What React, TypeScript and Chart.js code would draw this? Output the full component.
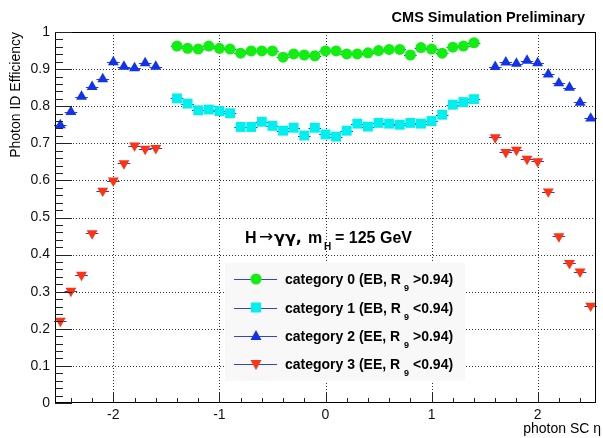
import React, { useEffect, useRef } from 'react';
import { Chart, registerables } from 'chart.js';

Chart.register(...registerables);

// ---------------- data ----------------
const etaEB = [-1.4, -1.3, -1.2, -1.1, -1.0, -0.9, -0.8, -0.7, -0.6, -0.5, -0.4, -0.3, -0.2, -0.1, 0.0,
  0.1, 0.2, 0.3, 0.4, 0.5, 0.6, 0.7, 0.8, 0.9, 1.0, 1.1, 1.2, 1.3, 1.4];
const cat0 = [0.962, 0.956, 0.954, 0.962, 0.956, 0.954, 0.943, 0.949, 0.949, 0.949, 0.932, 0.941, 0.938, 0.936, 0.949,
  0.949, 0.941, 0.941, 0.944, 0.950, 0.953, 0.953, 0.938, 0.958, 0.954, 0.943, 0.959, 0.962, 0.971];
const cat1 = [0.821, 0.807, 0.789, 0.791, 0.787, 0.781, 0.744, 0.744, 0.758, 0.747, 0.734, 0.742, 0.721, 0.742, 0.724,
  0.718, 0.734, 0.753, 0.745, 0.755, 0.753, 0.750, 0.755, 0.753, 0.760, 0.777, 0.804, 0.811, 0.819];
const etaEE = [-2.5, -2.4, -2.3, -2.2, -2.1, -2.0, -1.9, -1.8, -1.7, -1.6,
  1.6, 1.7, 1.8, 1.9, 2.0, 2.1, 2.2, 2.3, 2.4, 2.5];
const cat2 = [0.749, 0.785, 0.826, 0.852, 0.873, 0.919, 0.907, 0.903, 0.916, 0.907,
  0.906, 0.918, 0.915, 0.923, 0.916, 0.886, 0.862, 0.850, 0.810, 0.767];
const cat3 = [0.221, 0.302, 0.345, 0.457, 0.572, 0.599, 0.646, 0.694, 0.685, 0.687,
  0.716, 0.676, 0.682, 0.658, 0.651, 0.570, 0.449, 0.377, 0.354, 0.262];
const binHalfWidth = 0.05;

const xTickValues = [-2, -1, 0, 1, 2];
const xTickLabels = ['-2', '-1', '0', '1', '2'];
const yTickValues = [0, 0.1, 0.2, 0.3, 0.4, 0.5, 0.6, 0.7, 0.8, 0.9, 1];
const yTickLabels = ['0', '0.1', '0.2', '0.3', '0.4', '0.5', '0.6', '0.7', '0.8', '0.9', '1'];

const legendPrefix = ['category 0 (EB, R', 'category 1 (EB, R', 'category 2 (EE, R', 'category 3 (EE, R'];
const legendSub = ['9', '9', '9', '9'];
const legendCut = ['>0.94)', '<0.94)', '>0.94)', '<0.94)'];
const markerColors = ['#11ee11', '#00f0f0', '#1133ee', '#ff3311'];
const markerStyles = ['circle', 'rect', 'triangle', 'triangleDown'];

const titleText = 'CMS Simulation Preliminary';
const yTitle = 'Photon ID Efficiency';
const xTitle = 'photon SC \u03b7';

const FONT = '"Liberation Sans", Arial, Helvetica, sans-serif';
const SYM_FONT = '"DejaVu Sans", "Liberation Sans", sans-serif';
const ERR_COLOR = '#2a3ad8';

function drawMarker(ctx: CanvasRenderingContext2D, style: string, x: number, y: number, color: string) {
  ctx.save();
  ctx.fillStyle = color;
  ctx.beginPath();
  if (style === 'circle') {
    ctx.arc(x, y, 5.5, 0, Math.PI * 2);
  } else if (style === 'rect') {
    ctx.rect(x - 5, y - 5, 10, 10);
  } else if (style === 'triangle') {
    ctx.moveTo(x, y - 6);
    ctx.lineTo(x + 5.5, y + 4);
    ctx.lineTo(x - 5.5, y + 4);
  } else {
    ctx.moveTo(x, y + 6);
    ctx.lineTo(x + 5.5, y - 4);
    ctx.lineTo(x - 5.5, y - 4);
  }
  ctx.closePath();
  ctx.fill();
  ctx.restore();
}

const decorPlugin = {
  id: 'rootDecor',
  beforeDatasetsDraw(chart: any) {
    const { ctx, chartArea: a, scales } = chart;
    const xs = scales.x, ys = scales.y;
    ctx.save();
    // dotted grid
    ctx.strokeStyle = '#333';
    ctx.lineWidth = 1;
    ctx.setLineDash([1, 2]);
    for (const v of yTickValues) {
      const py = Math.round(ys.getPixelForValue(v)) + 0.5;
      if (py <= a.top + 1 || py >= a.bottom - 1) continue;
      ctx.beginPath();
      ctx.moveTo(a.left, py);
      ctx.lineTo(a.right, py);
      ctx.stroke();
    }
    for (const v of xTickValues) {
      const px = Math.round(xs.getPixelForValue(v)) + 0.5;
      ctx.beginPath();
      ctx.moveTo(px, a.top);
      ctx.lineTo(px, a.bottom);
      ctx.stroke();
    }
    ctx.setLineDash([]);
    // horizontal error bars (bin width)
    ctx.strokeStyle = ERR_COLOR;
    chart.data.datasets.forEach((ds: any) => {
      ds.data.forEach((p: any) => {
        const x1 = xs.getPixelForValue(p.x - binHalfWidth);
        const x2 = xs.getPixelForValue(p.x + binHalfWidth);
        const py = Math.round(ys.getPixelForValue(p.y)) + 0.5;
        ctx.beginPath();
        ctx.moveTo(x1 - 1, py);
        ctx.lineTo(x2 + 1, py);
        ctx.stroke();
      });
    });
    ctx.restore();
  },
  afterDatasetsDraw(chart: any) {
    const { ctx } = chart;
    ctx.save();
    // annotation
    ctx.fillStyle = '#000';
    ctx.textBaseline = 'alphabetic';
    ctx.textAlign = 'left';
    ctx.font = `bold 16px ${FONT}`;
    ctx.fillText('H', 245, 243);
    ctx.font = `17px ${SYM_FONT}`;
    ctx.fillText('\u2192', 259, 242);
    ctx.font = `bold 16px ${SYM_FONT}`;
    ctx.fillText('\u03b3\u03b3,', 274, 243);
    ctx.font = `bold 16px ${FONT}`;
    ctx.fillText('m', 308, 243);
    ctx.font = `bold 10px ${FONT}`;
    ctx.fillText('H', 324, 250);
    ctx.font = `bold 16px ${FONT}`;
    ctx.fillText('= 125 GeV', 335, 243);

    // legend
    ctx.fillStyle = '#f8f8f8';
    ctx.fillRect(225, 263, 240, 118);
    const rows = [279, 307.5, 336, 364];
    rows.forEach((ry, i) => {
      ctx.strokeStyle = '#3344cc';
      ctx.lineWidth = 1;
      ctx.beginPath();
      ctx.moveTo(234, Math.round(ry) + 0.5);
      ctx.lineTo(277, Math.round(ry) + 0.5);
      ctx.stroke();
      drawMarker(ctx, markerStyles[i], 256, ry, markerColors[i]);
      ctx.fillStyle = '#000';
      ctx.font = `bold 14px ${FONT}`;
      ctx.fillText(legendPrefix[i], 285, ry + 5);
      ctx.font = `bold 9px ${FONT}`;
      ctx.fillText(legendSub[i], 404, ry + 12);
      ctx.font = `bold 14px ${FONT}`;
      ctx.fillText(legendCut[i], 413, ry + 5);
    });
    ctx.restore();
  },
  afterDraw(chart: any) {
    const { ctx, chartArea: a, scales } = chart;
    const xs = scales.x, ys = scales.y;
    ctx.save();
    // frame
    ctx.strokeStyle = '#000';
    ctx.lineWidth = 1;
    ctx.strokeRect(a.left + 0.5, a.top + 0.5, a.right - a.left - 1, a.bottom - a.top - 1);
    // y ticks (inward)
    ctx.strokeStyle = '#222';
    ctx.beginPath();
    for (let k = 0; k <= 50; k++) {
      const v = k / 50;
      const py = Math.round(ys.getPixelForValue(v)) + 0.5;
      const len = k % 5 === 0 ? 17 : 8;
      ctx.moveTo(a.left, py);
      ctx.lineTo(a.left + len, py);
    }
    // x ticks (inward)
    for (let k = -12; k <= 12; k++) {
      const v = k / 5;
      const px = Math.round(xs.getPixelForValue(v)) + 0.5;
      const len = k % 5 === 0 ? 10 : 5;
      ctx.moveTo(px, a.bottom);
      ctx.lineTo(px, a.bottom - len);
    }
    ctx.stroke();

    // title
    ctx.fillStyle = '#000';
    ctx.font = `bold 14.5px ${FONT}`;
    ctx.textAlign = 'right';
    ctx.textBaseline = 'alphabetic';
    ctx.fillText(titleText, 585, 22);
    // x title
    ctx.font = `14px ${FONT}`;
    ctx.fillText(xTitle, 601, 433);
    // y title
    ctx.translate(16, a.top);
    ctx.rotate(-Math.PI / 2);
    ctx.textAlign = 'right';
    ctx.textBaseline = 'middle';
    ctx.fillText(yTitle, 0, 0);
    ctx.restore();
  },
};

export default function App() {
  const ref = useRef<HTMLCanvasElement | null>(null);
  useEffect(() => {
    document.body.style.margin = '0';
    const canvas = ref.current;
    if (!canvas) return;
    const mk = (xsArr: number[], ysArr: number[]) => xsArr.map((x, i) => ({ x, y: ysArr[i] }));
    const chart = new Chart(canvas, {
      type: 'scatter',
      data: {
        datasets: [
          { label: 'category 0', data: mk(etaEB, cat0), pointStyle: 'circle', pointRadius: 5.5, backgroundColor: markerColors[0], borderWidth: 0 },
          { label: 'category 1', data: mk(etaEB, cat1), pointStyle: 'rect', pointRadius: 7, backgroundColor: markerColors[1], borderWidth: 0 },
          { label: 'category 2', data: mk(etaEE, cat2), pointStyle: 'triangle', pointRadius: 6.3, backgroundColor: markerColors[2], borderWidth: 0 },
          { label: 'category 3', data: mk(etaEE, cat3), pointStyle: 'triangle', rotation: 180, pointRadius: 6.3, backgroundColor: markerColors[3], borderWidth: 0 },
        ] as any,
      },
      options: {
        animation: false,
        responsive: false,
        maintainAspectRatio: false,
        devicePixelRatio: 1,
        layout: { padding: { left: 0, right: 2, top: 32, bottom: 0 } },
        plugins: { legend: { display: false }, tooltip: { enabled: false }, title: { display: false } },
        scales: {
          x: {
            type: 'linear',
            min: -2.55,
            max: 2.55,
            grid: { display: false, drawTicks: false },
            border: { display: false },
            afterBuildTicks: (s: any) => { s.ticks = xTickValues.map((v) => ({ value: v })); },
            afterFit: (s: any) => { s.height = 35; },
            ticks: {
              autoSkip: false, maxRotation: 0, padding: 4, color: '#111',
              font: { family: FONT, size: 14 },
              callback: (_v: any, i: number) => xTickLabels[i],
            },
          },
          y: {
            type: 'linear',
            min: 0,
            max: 1,
            grid: { display: false, drawTicks: false },
            border: { display: false },
            afterBuildTicks: (s: any) => { s.ticks = yTickValues.map((v) => ({ value: v })); },
            afterFit: (s: any) => { s.width = 55; },
            ticks: {
              autoSkip: false, padding: 5, color: '#111',
              font: { family: FONT, size: 14 },
              callback: (_v: any, i: number) => yTickLabels[i],
            },
          },
        },
      } as any,
      plugins: [decorPlugin],
    });
    return () => chart.destroy();
  }, []);
  return (
    <div style={{ width: 603, height: 438, background: '#fff' }}>
      <canvas ref={ref} width={603} height={438} style={{ display: 'block' }} />
    </div>
  );
}
